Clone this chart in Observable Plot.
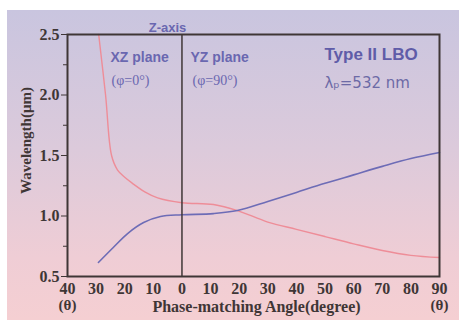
<!DOCTYPE html>
<html>
<head>
<meta charset="utf-8">
<script src="https://cdn.jsdelivr.net/npm/d3@7"></script>
<script src="https://cdn.jsdelivr.net/npm/@observablehq/plot@0.6"></script>
<style>
  html, body { margin: 0; padding: 0; background: #fff; }
  #wrap { position: relative; width: 459px; height: 320px; overflow: hidden; background: #fff; }
  #bg { position: absolute; left: 7px; top: 10px; right: 0; bottom: 0;
        background: linear-gradient(to bottom, #c9c5df 0%, #dccadb 45%, #efcdd5 80%, #f5cfd2 100%); }
  #chart { position: absolute; left: 0; top: 0; }
</style>
</head>
<body>
<div id="wrap"><div id="bg"></div><div id="chart"></div></div>
<script>
// Position coordinate: negative = XZ plane side (theta shown as |value|), positive = YZ plane side
const xTicks = [-40, -30, -20, -10, 0, 10, 20, 30, 40, 50, 60, 70, 80, 90];
const yTicks = [0.5, 1.0, 1.5, 2.0, 2.5];
const yMinorTicks = [0.75, 1.25, 1.75, 2.25];

// Red curve
const redAngle = [-29.1, -26.7, -24.6, -22.5, -20, -17.3, -13, -8.5, 0, 11, 19.4, 30, 40, 50, 60, 70, 80, 90];
const redWave  = [2.5, 2.0, 1.5, 1.38, 1.32, 1.27, 1.2, 1.15, 1.11, 1.095, 1.045, 0.95, 0.89, 0.83, 0.77, 0.715, 0.675, 0.657];

// Blue curve
const blueAngle = [-29.2, -24, -19, -13.4, -7.5, 0, 11, 19.4, 30, 40, 50, 60, 70, 80, 90];
const blueWave  = [0.616, 0.74, 0.855, 0.946, 0.996, 1.01, 1.02, 1.045, 1.12, 1.195, 1.27, 1.34, 1.41, 1.475, 1.525];

const red = redAngle.map((a, i) => ({a, w: redWave[i]}));
const blue = blueAngle.map((a, i) => ({a, w: blueWave[i]}));

const ink = "#3f3636";
const lav = "#6a67b0";
const serif = "'Liberation Serif', 'Times New Roman', serif";
const sans = "'Liberation Sans', Arial, sans-serif";

const plot = Plot.plot({
  width: 459,
  height: 320,
  marginLeft: 67,
  marginRight: 20,
  marginTop: 34,
  marginBottom: 44,
  style: { background: "transparent", overflow: "visible" },
  x: { domain: [-40, 90] },
  y: { domain: [0.5, 2.5] },
  marks: [
    Plot.line(red, { x: "a", y: "w", stroke: "#ee8d98", strokeWidth: 1.4, curve: "catmull-rom" }),
    Plot.line(blue, { x: "a", y: "w", stroke: "#6d6cb6", strokeWidth: 1.6, curve: "catmull-rom" }),
    Plot.ruleX([0], { stroke: ink, strokeWidth: 1.5 }),
    Plot.frame({ stroke: ink, strokeWidth: 2 }),
    Plot.axisY({ ticks: yTicks, tickSize: 6, tickPadding: 2, tickFormat: d => d.toFixed(1),
      fontSize: 16, fontWeight: "bold", fontFamily: serif, fill: ink, stroke: ink, label: null }),
    Plot.axisY({ ticks: yMinorTicks, tickSize: 4, tickFormat: () => "", stroke: ink, label: null }),
    Plot.axisX({ ticks: xTicks, tickSize: 0, tickPadding: 6, tickFormat: d => String(Math.abs(d)),
      fontSize: 16, fontWeight: "bold", fontFamily: serif, fill: ink, label: null }),
    Plot.text(["Phase-matching Angle(degree)"], { frameAnchor: "bottom", lineAnchor: "middle", dx: 3, dy: 30,
      text: d => d, fontSize: 16, fontWeight: "bold", fontFamily: serif, fill: ink }),
    Plot.text([-40, 90], { x: d => d, frameAnchor: "bottom", lineAnchor: "middle", dy: 29, text: () => "(θ)",
      fontSize: 15, fontWeight: "bold", fontFamily: serif, fill: ink }),
    Plot.text(["Wavelength(μm)"], { frameAnchor: "left", textAnchor: "middle", lineAnchor: "middle",
      dx: -41, dy: -15, rotate: -90, text: d => d,
      fontSize: 15, fontWeight: "bold", fontFamily: serif, fill: ink }),
    Plot.text(["Z-axis"], { x: [-5.05], y: [2.558], text: d => d, fontSize: 13, fontWeight: "bold",
      fontFamily: sans, fill: lav, letterSpacing: "0.5px" }),
    Plot.text(["XZ plane"], { x: [-24.97], y: [2.31], text: d => d, textAnchor: "start", fontSize: 14,
      fontWeight: "bold", fontFamily: sans, fill: lav, letterSpacing: "0.3px" }),
    Plot.text(["(φ=0°)"], { x: [-24.6], y: [2.12], text: d => d, textAnchor: "start", fontSize: 14,
      fontFamily: serif, fill: lav }),
    Plot.text(["YZ plane"], { x: [2.98], y: [2.31], text: d => d, textAnchor: "start", fontSize: 14,
      fontWeight: "bold", fontFamily: sans, fill: lav, letterSpacing: "0.3px" }),
    Plot.text(["(φ=90°)"], { x: [3.7], y: [2.12], text: d => d, textAnchor: "start", fontSize: 14,
      fontFamily: serif, fill: lav }),
    Plot.text(["Type II LBO"], { x: [49.8], y: [2.335], text: d => d, textAnchor: "start", fontSize: 17,
      fontWeight: "bold", fontFamily: sans, fill: "#5f5ca8" }),
    Plot.text(["λₚ=532 nm"], { x: [49.8], y: [2.095], text: d => d, textAnchor: "start", fontSize: 15,
      fontFamily: "'DejaVu Sans', sans-serif", fill: "#6c6aa6", letterSpacing: "-0.5px" })
  ]
});
document.getElementById("chart").appendChild(plot);
</script>
</body>
</html>
